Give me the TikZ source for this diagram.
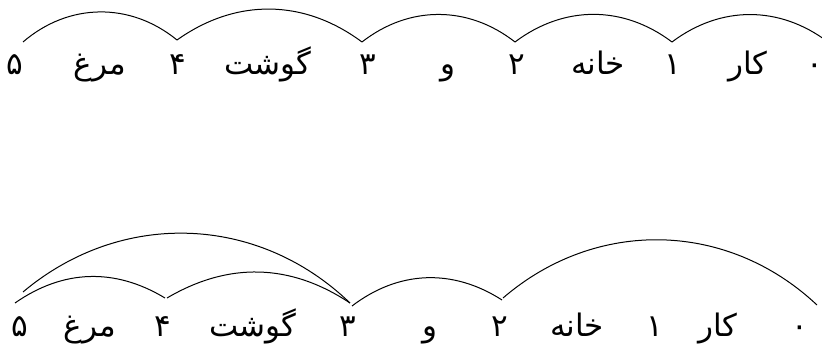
\documentclass[tikz,border=0pt]{standalone}
\usepackage{fontspec}
\TeXXeTstate=1
\newfontfamily\arabicfont[Script=Arabic]{DejaVu Sans}
\begin{document}
\begin{tikzpicture}[x=1pt,y=1pt,
  lbl/.style={anchor=base,inner sep=0pt,font=\arabicfont\fontsize{31}{36}\selectfont},
  arc/.style={line width=1pt}]
\clip (0,0) rectangle (822,347);
% top row
\node[lbl] (d5) at (15,272) {\beginR ۵\endR};
\node[lbl] (w5) at (100,272) {\beginR مرغ\endR};
\node[lbl] (d4) at (178,272) {\beginR ۴\endR};
\node[lbl] (w4) at (268,272) {\beginR گوشت\endR};
\node[lbl] (d3) at (368,272) {\beginR ۳\endR};
\node[lbl] (w3) at (448,272) {\beginR و\endR};
\node[lbl] (d2) at (517,272) {\beginR ۲\endR};
\node[lbl] (w2) at (598,272) {\beginR خانه\endR};
\node[lbl] (d1) at (673,272) {\beginR ۱\endR};
\node[lbl] (w1) at (748,272) {\beginR کار\endR};
\node[lbl] (d0) at (815,272) {\beginR ۰\endR};
\draw[arc] ([shift={(8,33)}]d5.base) to[bend left=40] ([shift={(-1,35)}]d4.base);
\draw[arc] ([shift={(-1,35)}]d4.base) to[bend left=36] ([shift={(-6,33)}]d3.base);
\draw[arc] ([shift={(-6,33)}]d3.base) to[bend left=38] ([shift={(-2,33)}]d2.base);
\draw[arc] ([shift={(-2,33)}]d2.base) to[bend left=37] ([shift={(-1,33)}]d1.base);
\draw[arc] ([shift={(-1,33)}]d1.base) to[bend left=37] ([shift={(13,33)}]d0.base);
% bottom row
\node[lbl] (b5) at (20,10) {\beginR ۵\endR};
\node[lbl] (v5) at (90,10) {\beginR مرغ\endR};
\node[lbl] (b4) at (163,10) {\beginR ۴\endR};
\node[lbl] (v4) at (253,10) {\beginR گوشت\endR};
\node[lbl] (b3) at (348,10) {\beginR ۳\endR};
\node[lbl] (v3) at (430,10) {\beginR و\endR};
\node[lbl] (b2) at (500,10) {\beginR ۲\endR};
\node[lbl] (v2) at (577,10) {\beginR خانه\endR};
\node[lbl] (b1) at (655,10) {\beginR ۱\endR};
\node[lbl] (v1) at (718,10) {\beginR کار\endR};
\node[lbl] (b0) at (800,10) {\beginR ۰\endR};
\draw[arc] ([shift={(-5,34)}]b5.base) to[bend left=33] ([shift={(2,39)}]b4.base);
\draw[arc] ([shift={(3,45)}]b5.base) to[bend left=42] ([shift={(2,34)}]b3.base);
\draw[arc] ([shift={(4,39)}]b4.base) to[bend left=32] ([shift={(2,34)}]b3.base);
\draw[arc] ([shift={(4,31)}]b3.base) to[bend left=35] ([shift={(2,37)}]b2.base);
\draw[arc] ([shift={(3,39)}]b2.base) to[bend left=42] ([shift={(17,32)}]b0.base);
\end{tikzpicture}
\end{document}
